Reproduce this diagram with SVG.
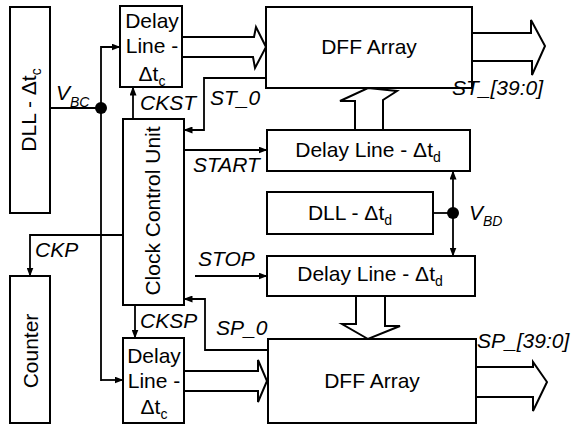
<svg xmlns="http://www.w3.org/2000/svg" width="573" height="424" viewBox="0 0 573 424">
<style>
.box{fill:#fff;stroke:#000;stroke-width:2}
.ln{fill:none;stroke:#000;stroke-width:1.8}
.big{fill:none;stroke:#000;stroke-width:2;stroke-linejoin:miter}
.t{font-family:"Liberation Sans",Arial,sans-serif;font-size:21px;fill:#000}
.i{font-family:"Liberation Sans",Arial,sans-serif;font-size:21px;font-style:italic;fill:#000}
.m{text-anchor:middle}
</style>
<defs>
<marker id="ah" markerWidth="9" markerHeight="7" refX="8.5" refY="3.5" orient="auto" markerUnits="userSpaceOnUse">
<path d="M0,0 L9,3.5 L0,7 Z" fill="#000"/>
</marker>
</defs>

<g id="dll-c"><rect class="box" x="10" y="7" width="40" height="206"/>
<text class="t m" transform="translate(36,110) rotate(-90)">DLL - Δt<tspan font-size="14" dy="5">c</tspan></text></g>

<g id="counter"><rect class="box" x="10" y="276" width="40" height="147"/>
<text class="t m" transform="translate(38,351) rotate(-90)">Counter</text></g>

<g id="delay-c-top"><rect class="box" x="120" y="6" width="62" height="81"/>
<text class="t m" x="152" y="28">Delay</text>
<text class="t m" x="152" y="53">Line -</text>
<text class="t m" x="152" y="81">Δt<tspan font-size="14" dy="5">c</tspan></text></g>

<g id="ccu"><rect class="box" x="123" y="119" width="61" height="186"/>
<text class="t m" transform="translate(160,211) rotate(-90)" font-size="22">Clock Control Unit</text></g>

<g id="delay-c-bot"><rect class="box" x="123" y="338" width="61" height="85"/>
<text class="t m" x="154" y="363">Delay</text>
<text class="t m" x="154" y="388">Line -</text>
<text class="t m" x="154" y="414">Δt<tspan font-size="14" dy="5">c</tspan></text></g>

<g id="dff-top"><rect class="box" x="266" y="7" width="206" height="81"/>
<text class="t m" x="369" y="54">DFF Array</text></g>

<g id="delay-d-top"><rect class="box" x="267" y="130" width="203" height="41"/>
<text class="t m" x="368" y="157">Delay Line - Δt<tspan font-size="14" dy="5">d</tspan></text></g>

<g id="dll-d"><rect class="box" x="267" y="192" width="166" height="42"/>
<text class="t m" x="350" y="220">DLL - Δt<tspan font-size="14" dy="5">d</tspan></text></g>

<g id="delay-d-bot"><rect class="box" x="267" y="256" width="208" height="40"/>
<text class="t m" x="370" y="281">Delay Line - Δt<tspan font-size="14" dy="5">d</tspan></text></g>

<g id="dff-bot"><rect class="box" x="268" y="339" width="208" height="84"/>
<text class="t m" x="372" y="388">DFF Array</text></g>

<g id="connectors">
<path class="ln" d="M50,108 H101"/>
<path class="ln" d="M101,381 V47 H120" marker-end="url(#ah)"/>
<path class="ln" d="M101,380 H123" marker-end="url(#ah)"/>
<circle cx="101" cy="108" r="6" fill="#000"/>
<path class="ln" d="M123,235 H30 V276" marker-end="url(#ah)"/>
<path class="ln" d="M133,119 V87" marker-end="url(#ah)"/>
<path class="ln" d="M135,305 V338" marker-end="url(#ah)"/>
<path class="ln" d="M266,78 H204 V130 H184" marker-end="url(#ah)"/>
<path class="ln" d="M268,350 H205 V299 H184" marker-end="url(#ah)"/>
<path class="ln" d="M185,150 H267" marker-end="url(#ah)"/>
<path class="ln" d="M195,276 H267" marker-end="url(#ah)"/>
<path class="ln" d="M433,213 H453"/>
<path class="ln" d="M453,213 V171" marker-end="url(#ah)"/>
<path class="ln" d="M453,213 V256" marker-end="url(#ah)"/>
<circle cx="453" cy="213" r="6" fill="#000"/>
<path class="big" d="M182,37 H254 L256,27 L266,47 L255,68 L253,57 H182"/>
<path class="big" d="M472,33 H531 V20 L545,46 L532,75 V61 H472"/>
<path class="big" d="M355,130 V101 H340 L368,88 L397,91 L383,100 V130"/>
<path class="big" d="M356,296 V324 H342 L368,339 L400,326 H385 V296"/>
<path class="big" d="M184,371 H258 V360 L267,381 L258,402 V391 H184"/>
<path class="big" d="M476,367 H533 V362 L547,382 L533,411 V397 H476"/>
</g>

<g id="labels">
<text class="i" x="56" y="100">V<tspan font-size="14" dy="7">BC</tspan></text>
<text class="i" x="140" y="110" font-size="20">CKST</text>
<text class="i" x="210" y="105">ST_0</text>
<text class="i" x="452" y="95" font-size="23">ST_[39:0]</text>
<text class="i" x="193" y="172">START</text>
<text class="i" x="469" y="220">V<tspan font-size="14" dy="6">BD</tspan></text>
<text class="i" x="198" y="266">STOP</text>
<text class="i" x="35" y="257">CKP</text>
<text class="i" x="140" y="328">CKSP</text>
<text class="i" x="216" y="335">SP_0</text>
<text class="i" x="477" y="348">SP_[39:0]</text>
</g>
</svg>
